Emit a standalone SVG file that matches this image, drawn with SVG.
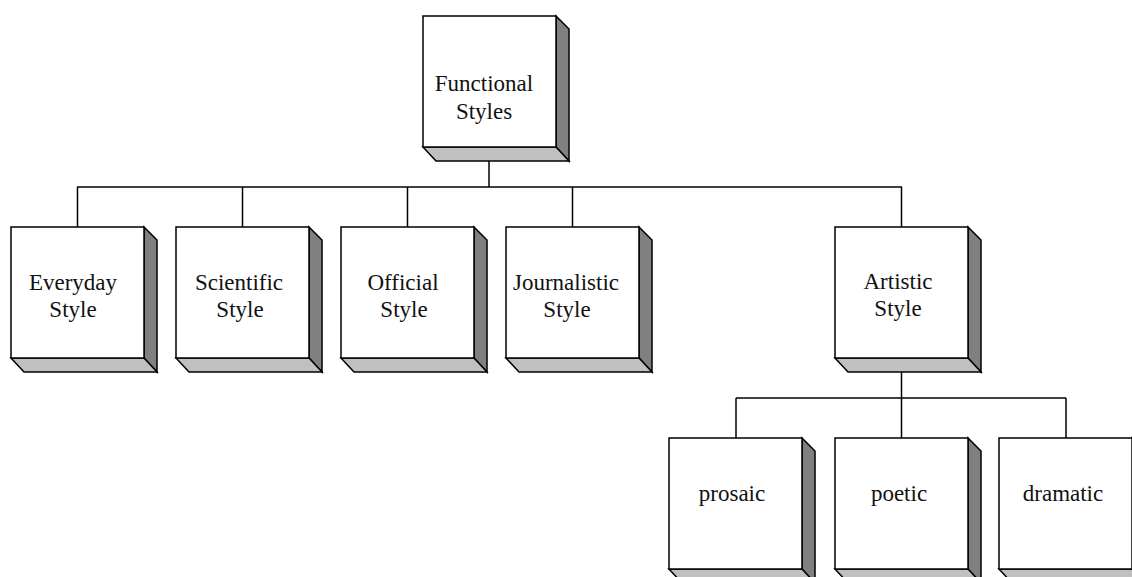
<svg xmlns="http://www.w3.org/2000/svg" width="1132" height="577" viewBox="0 0 1132 577">
<defs>
<style>
.front{fill:#ffffff;stroke:#000;stroke-width:1.5;stroke-linejoin:miter}
.side{fill:#808080;stroke:#000;stroke-width:1.5;stroke-linejoin:miter}
.bot{fill:#c0c0c0;stroke:#000;stroke-width:1.5;stroke-linejoin:miter}
.lbl{font-family:"Liberation Serif","Times New Roman",serif;font-size:23px;fill:#111;text-anchor:middle}
.conn{fill:none;stroke:#000;stroke-width:1.5}
</style>
<g id="box">
<polygon class="side" points="133,0 146,13 146,145 133,131"/>
<polygon class="bot" points="0,131 133,131 146,145 13,145"/>
<rect class="front" x="0" y="0" width="133" height="131"/>
</g>
</defs>
<g id="connectors">
<line class="conn" x1="489" y1="154" x2="489" y2="187"/>
<line class="conn" x1="77" y1="187" x2="902" y2="187"/>
<line class="conn" x1="77.5" y1="187" x2="77.5" y2="227"/>
<line class="conn" x1="242.5" y1="187" x2="242.5" y2="227"/>
<line class="conn" x1="407.5" y1="187" x2="407.5" y2="227"/>
<line class="conn" x1="572.5" y1="187" x2="572.5" y2="227"/>
<line class="conn" x1="901.5" y1="187" x2="901.5" y2="227"/>
<line class="conn" x1="901.5" y1="367" x2="901.5" y2="438"/>
<line class="conn" x1="736" y1="398" x2="1066" y2="398"/>
<line class="conn" x1="736" y1="398" x2="736" y2="438"/>
<line class="conn" x1="1066" y1="398" x2="1066" y2="438"/>
</g>
<g id="functional">
<use href="#box" x="423" y="16"/>
<text class="lbl" x="484" y="91">Functional</text>
<text class="lbl" x="484" y="119">Styles</text>
</g>
<g id="everyday">
<use href="#box" x="11" y="227"/>
<text class="lbl" x="73" y="290">Everyday</text>
<text class="lbl" x="73" y="317">Style</text>
</g>
<g id="scientific">
<use href="#box" x="176" y="227"/>
<text class="lbl" x="239" y="290">Scientific</text>
<text class="lbl" x="240" y="317">Style</text>
</g>
<g id="official">
<use href="#box" x="341" y="227"/>
<text class="lbl" x="403" y="290">Official</text>
<text class="lbl" x="404" y="317">Style</text>
</g>
<g id="journalistic">
<use href="#box" x="506" y="227"/>
<text class="lbl" x="566" y="290">Journalistic</text>
<text class="lbl" x="567" y="317">Style</text>
</g>
<g id="artistic">
<use href="#box" x="835" y="227"/>
<text class="lbl" x="898" y="289">Artistic</text>
<text class="lbl" x="898" y="316">Style</text>
</g>
<g id="prosaic">
<use href="#box" x="669" y="438"/>
<text class="lbl" x="732" y="501">prosaic</text>
</g>
<g id="poetic">
<use href="#box" x="835" y="438"/>
<text class="lbl" x="899" y="501">poetic</text>
</g>
<g id="dramatic">
<use href="#box" x="999" y="438"/>
<text class="lbl" x="1063" y="501">dramatic</text>
</g>
</svg>
